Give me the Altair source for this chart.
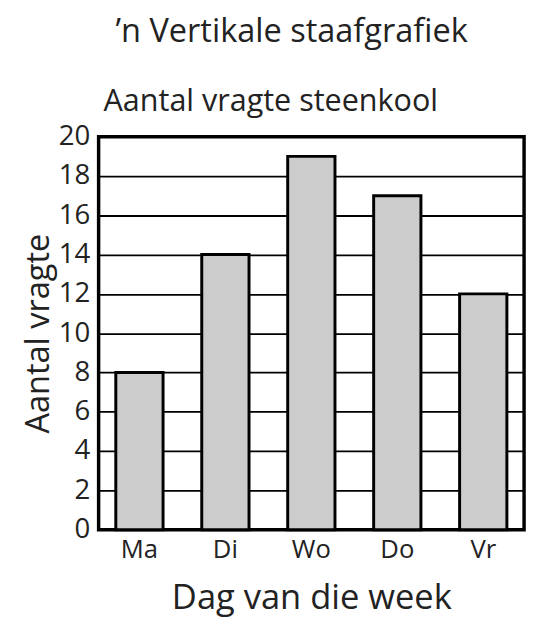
import altair as alt
import pandas as pd

days = ["Ma", "Di", "Wo", "Do", "Vr"]
loads = [8, 14, 19, 17, 12]
y_ticks = [0, 2, 4, 6, 8, 10, 12, 14, 16, 18, 20]

main_title = "\u2019n Vertikale staafgrafiek"
sub_title = "Aantal vragte steenkool"
x_title = "Dag van die week"
y_title = "Aantal vragte"

FONT = "Open Sans"
TXT = "#222222"

df = pd.DataFrame({"dag": days, "vragte": loads})

bars = alt.Chart(df).mark_bar(
    fill="#cccccc", stroke="black", strokeWidth=3
).encode(
    x=alt.X(
        "dag:N", sort=days, title=x_title,
        scale=alt.Scale(paddingInner=0.45, paddingOuter=0.2),
        axis=alt.Axis(labelAngle=0, labelFontSize=26, labelPadding=7,
                      titleFontSize=35, titlePadding=19, ticks=False,
                      domain=False, labelColor=TXT, titleColor=TXT,
                      labelFont=FONT, titleFont=FONT, titleFontWeight="normal"),
    ),
    y=alt.Y(
        "vragte:Q", title=y_title,
        scale=alt.Scale(domain=[0, 20], nice=False),
        axis=alt.Axis(values=y_ticks, labelFontSize=28, labelPadding=9,
                      titleFontSize=33, titlePadding=3, ticks=False,
                      domain=False, grid=True, gridColor="black",
                      gridWidth=1.8, gridOpacity=1,
                      labelColor=TXT, titleColor=TXT,
                      labelFont=FONT, titleFont=FONT, titleFontWeight="normal"),
    ),
)

sub = alt.Chart(alt.Data(values=[{"t": sub_title}])).mark_text(
    align="left", baseline="alphabetic", fontSize=31, font=FONT, color=TXT
).encode(x=alt.value(5), y=alt.value(-26), text="t:N")

chart = alt.layer(bars, sub).properties(
    width=432, height=399,
    autosize=alt.AutoSizeParams(type="none"),
    padding={"left": 92, "top": 126, "right": 5, "bottom": 85},
    title=alt.TitleParams(main_title, fontSize=33, font=FONT,
                          fontWeight="normal", color=TXT, anchor="middle",
                          offset=38, dx=-20),
).configure(background="white").configure_view(stroke="black", strokeWidth=3.5)

chart.save("out.html", embed_options={"renderer": "svg", "actions": False})
